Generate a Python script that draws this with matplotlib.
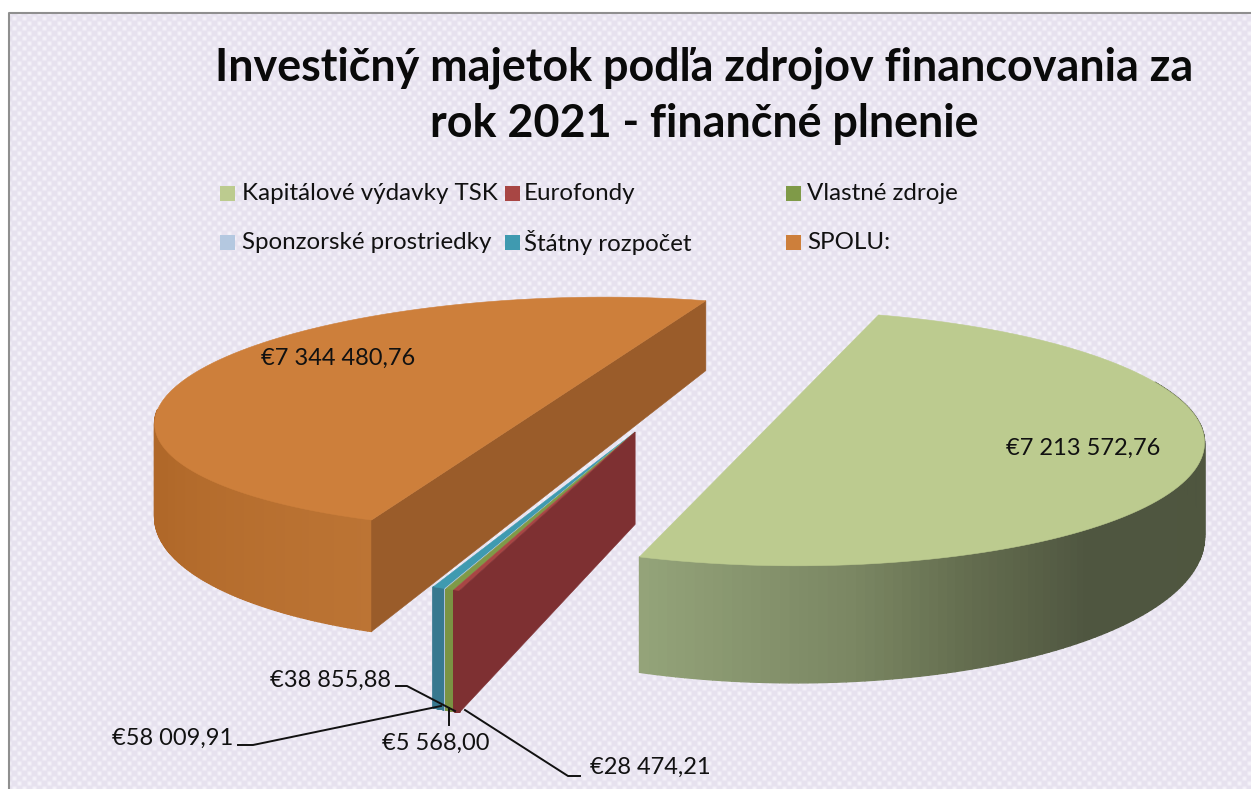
import numpy as np
import matplotlib
matplotlib.use('Agg')
import matplotlib.pyplot as plt
from matplotlib.patches import Rectangle, Polygon
from matplotlib.colors import to_rgb

plt.rcParams['font.family'] = ['Lato', 'DejaVu Sans']

# data
title = 'Investičný majetok podľa zdrojov financovania za\nrok 2021 - finančné plnenie'
names = ['Kapitálové výdavky TSK', 'Eurofondy', 'Vlastné zdroje',
         'Sponzorské prostriedky', 'Štátny rozpočet', 'SPOLU:']
values = [7213572.76, 28474.21, 38855.88, 5568.00, 58009.91, 7344480.76]
top_colors = ['#bccb8f', '#a84644', '#7f9a48', '#b4c8e0', '#3f9ab0', '#cd7f3b']
side_colors = ['#9aaa7d', '#7e3032', '#7a9343', '#a9bedb', '#37788f', '#b56d30']

# camera, everything in pixels of the picture
x0, y_h, K, thick = 720, -67, 1589, 0.185
R = 0.85
start = 71.7


def proj(X, d, z=0.0, th=thick):
    s = K / np.asarray(d)
    return x0 + np.asarray(X) * s, y_h + s * (1 + th * np.asarray(z))


def arc(c, a0, a1, r=R, n=120, rx=1.0):
    t = np.radians(np.linspace(a0, a1, n))
    return c[0] + r * rx * np.cos(t), c[1] + r * np.sin(t)


def poly(ax, xs, ys, color, z, lw=0.4):
    ax.add_patch(Polygon(np.column_stack([xs, ys]), closed=True, fc=color,
                         ec=color, lw=lw, zorder=z))


def rim(ax, c, a0, a1, stops, z, rx=1.0, r=R, th=thick):
    X, d = arc(c, a0, a1, r=r, rx=rx)
    xt, yt = proj(X, d, 0, th)
    xb, yb = proj(X, d, 1, th)
    ang = np.linspace(a0, a1, len(X))
    st = sorted(stops)
    cols = np.array([to_rgb(s[1]) for s in st])
    pos = [s[0] for s in st]
    for i in range(len(X) - 1):
        col = [np.interp(ang[i], pos, cols[:, k]) for k in range(3)]
        poly(ax, [xt[i], xt[i + 1], xb[i + 1], xb[i]],
             [yt[i], yt[i + 1], yb[i + 1], yb[i]], col, z, lw=1.0)


fig = plt.figure(figsize=(12.51, 7.89), dpi=100)
ax = fig.add_axes([0, 0, 1, 1])

# background texture
yy, xx = np.mgrid[0:776, 0:1242]
tex = np.cos(2 * np.pi * xx / 10) * np.cos(2 * np.pi * yy / 10)
tex = np.clip(tex, 0, 1)[..., None] ** 0.7
bg = np.array(to_rgb('#e7e2ef')) * (1 - tex) + np.array(to_rgb('#f6f4fa')) * tex
ax.imshow(bg, extent=(9, 1251, 789, 13), aspect='auto', interpolation='bilinear', zorder=0)
ax.set_xlim(0, 1251)
ax.set_ylim(789, 0)
ax.axis('off')
ax.plot([9, 9, 1251], [789, 13, 13], color='#8f8f8f', lw=1.5, zorder=1)

ax.text(704, 96, title, ha='center', va='center', fontsize=32.3, fontweight='bold',
        color='#0a0a0a', linespacing=1.42, zorder=10)

# legend
leg_x = [220, 505, 786, 220, 505, 786]
leg_y = [193, 193, 193, 242, 242, 242]
leg_dx = [22, 19, 21, 22, 19, 21]
for i, nm in enumerate(names):
    ax.add_patch(Rectangle((leg_x[i], leg_y[i] - 7), 15, 15, fc=top_colors[i], lw=0, zorder=5))
    ax.text(leg_x[i] + leg_dx[i], leg_y[i], nm, va='center', ha='left', fontsize=17.4, color='#111111', zorder=5)

# slices
total = sum(values)
sweep = [v / total * 360 for v in values]
a_green_end = start - sweep[0]
a_thin_end = a_green_end - sum(sweep[1:5])
a_orange_end = a_thin_end - sweep[5]

# orange half
c_or = (-0.316, 3.514)
rim(ax, c_or, a_thin_end, -168, [(-200, '#b06829'), (-150, '#b06829'), (-108, '#bc7434')], 2, rx=1.04, th=0.19)
X, d = arc(c_or, a_thin_end, a_orange_end, rx=1.04)
xa, ya = proj([X[0], X[-1], X[-1], X[0]], [d[0], d[-1], d[-1], d[0]], [0, 0, 1, 1], th=0.19)
poly(ax, xa, ya, '#9a5c2a', 3)
xt, yt = proj(X, d)
poly(ax, xt, yt, top_colors[5], 4)

# small slices share one centre
c_thin = (-0.170, 3.184)
r_thin = 0.80
a = -106.4
thin_from = a
bounds = []
for i in range(1, 5):
    bounds.append((i, a, a - sweep[i]))
    a -= sweep[i]
for i, a1, a2 in reversed(bounds):
    rim(ax, c_thin, a1, a2, [(-400, side_colors[i]), (400, side_colors[i])], 5, r=r_thin)
    X, d = arc(c_thin, a1, a2, r=r_thin, n=8)
    xt, yt = proj(np.r_[c_thin[0], X], np.r_[c_thin[1], d])
    poly(ax, xt, yt, top_colors[i], 6)
X, d = arc(c_thin, thin_from, thin_from, r=r_thin, n=2)
xf, yf = proj([c_thin[0], X[0], X[0], c_thin[0]], [c_thin[1], d[0], d[0], c_thin[1]], [0, 0, 1, 1])
poly(ax, xf, yf, side_colors[1], 7)

# big green slice
c_gr = (0.120, 3.361)
g_start = start - 1.6
g_end = g_start - sweep[0]
rim(ax, c_gr, 12, g_end,
    [(-107, '#95a57a'), (-84, '#7b8763'), (-71, '#646d4f'), (-55, '#4f5640'), (25, '#4e553e')], 2, rx=1.02)
X, d = arc(c_gr, g_start, g_end, rx=1.02)
xt, yt = proj(X, d)
poly(ax, xt, yt, top_colors[0], 4)


def euro(v):
    whole, dec = f'{v:.2f}'.split('.')
    return '€' + f'{int(whole):,}'.replace(',', ' ') + ',' + dec


# data labels
lab_x = [1083, 650, 330, 436, 173, 338]
lab_y = [448, 767, 680, 743, 738, 358]
for v, lx, ly in zip(values, lab_x, lab_y):
    ax.text(lx, ly, euro(v), ha='center', va='center', fontsize=17, color='#111111', zorder=10)

# leader lines
ax.plot([396, 407, 455], [686, 686, 711], color='#111111', lw=1.4, zorder=9)
ax.plot([449, 449], [708, 725], color='#111111', lw=1.4, zorder=9)
ax.plot([465, 568, 580], [710, 776, 776], color='#111111', lw=1.4, zorder=9)
ax.plot([238, 253, 441], [745, 745, 706], color='#111111', lw=1.4, zorder=9)

fig.savefig('out.png', dpi=100)
